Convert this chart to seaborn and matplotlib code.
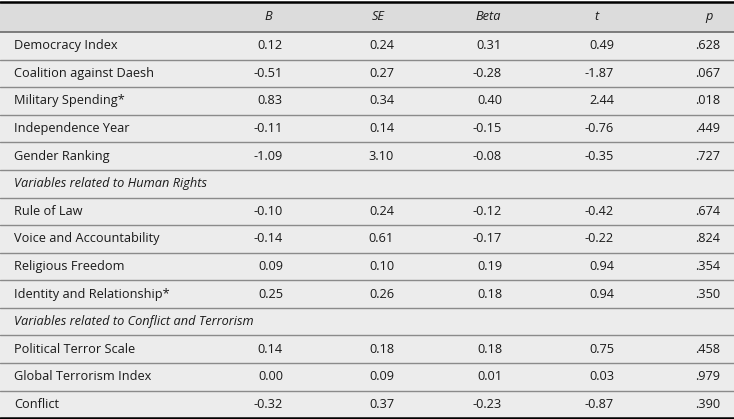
import numpy as np
import pandas as pd
import seaborn as sns
import matplotlib.pyplot as plt

# table content
variables = [
    "Democracy Index",
    "Coalition against Daesh",
    "Military Spending*",
    "Independence Year",
    "Gender Ranking",
    "Rule of Law",
    "Voice and Accountability",
    "Religious Freedom",
    "Identity and Relationship*",
    "Political Terror Scale",
    "Global Terrorism Index",
    "Conflict",
]
b_vals = [0.12, -0.51, 0.83, -0.11, -1.09, -0.10, -0.14, 0.09, 0.25, 0.14, 0.00, -0.32]
se_vals = [0.24, 0.27, 0.34, 0.14, 3.10, 0.24, 0.61, 0.10, 0.26, 0.18, 0.09, 0.37]
beta_vals = [0.31, -0.28, 0.40, -0.15, -0.08, -0.12, -0.17, 0.19, 0.18, 0.18, 0.01, -0.23]
t_vals = [0.49, -1.87, 2.44, -0.76, -0.35, -0.42, -0.22, 0.94, 0.94, 0.75, 0.03, -0.87]
p_vals = [0.628, 0.067, 0.018, 0.449, 0.727, 0.674, 0.824, 0.354, 0.350, 0.458, 0.979, 0.390]

headers = ["B", "SE", "Beta", "t", "p"]
# section headings inserted before these variable indices
sections = {5: "Variables related to Human Rights",
            9: "Variables related to Conflict and Terrorism"}

# build row list
rows = []
for i, name in enumerate(variables):
    if i in sections:
        rows.append({"label": sections[i], "section": True})
    rows.append({
        "label": name, "section": False,
        "B": f"{b_vals[i]:.2f}", "SE": f"{se_vals[i]:.2f}",
        "Beta": f"{beta_vals[i]:.2f}", "t": f"{t_vals[i]:.2f}",
        "p": f"{p_vals[i]:.3f}".lstrip("0"),
    })
table = pd.DataFrame(rows)
n_rows = len(table)

sns.set_theme(style="white")
plt.rcParams["font.family"] = ["Open Sans", "DejaVu Sans"]

fig = plt.figure(figsize=(7.34, 4.19), dpi=100)
ax = fig.add_axes([0, 0, 1, 1])
ax.set_xlim(0, 734)
header_h = 1.1
ax.set_ylim(n_rows + 0.03, -header_h - 0.06)
ax.axis("off")

body_bg = "#ececec"
head_bg = "#dcdcdc"
ax.axhspan(-header_h, 0, color=head_bg, lw=0)
ax.axhspan(0, n_rows, color=body_bg, lw=0)

value_right = {"B": 283, "SE": 394, "Beta": 502, "t": 614, "p": 720}
header_center = {"B": 268, "SE": 378, "Beta": 488, "t": 597, "p": 709}
fs = 9.2

for h in headers:
    ax.text(header_center[h], -header_h / 2, h, ha="center", va="center",
            fontsize=fs, style="italic", color="#1a1a1a")

for i, r in table.iterrows():
    yc = i + 0.5
    if r["section"]:
        ax.text(14, yc, r["label"], ha="left", va="center", fontsize=fs,
                style="italic", color="#1a1a1a")
        continue
    ax.text(14, yc, r["label"], ha="left", va="center", fontsize=fs,
            color="#1a1a1a")
    for h in headers:
        ax.text(value_right[h], yc, r[h], ha="right", va="center",
                fontsize=fs, color="#1a1a1a")

# row separators
for k in range(1, n_rows):
    ax.axhline(k, color="#8a8a8a", lw=1.0)
ax.axhline(0, color="#6a6a6a", lw=1.2)
ax.axhline(-header_h, color="black", lw=1.8)
ax.axhline(n_rows, color="black", lw=1.8)

fig.savefig("out.png", dpi=100)
plt.close()
